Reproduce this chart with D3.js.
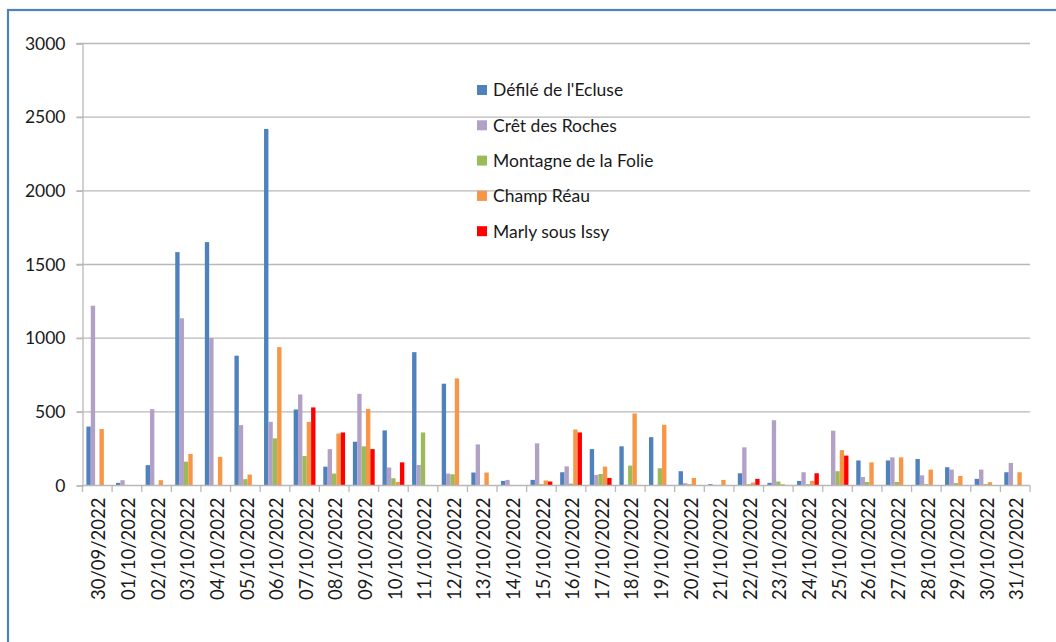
<!DOCTYPE html>
<html>
<head>
<meta charset="utf-8">
<script src="https://cdn.jsdelivr.net/npm/d3@7"></script>
<style>
  html, body { margin: 0; padding: 0; background: #fff; }
  svg { display: block; font-family: Lato, "Open Sans", sans-serif; }
</style>
</head>
<body>
<svg id="chart" width="1056" height="642"></svg>
<script>
// Daily counts per observation site, 30/09/2022 – 31/10/2022
const dates = [
  "30/09/2022", "01/10/2022", "02/10/2022", "03/10/2022", "04/10/2022", "05/10/2022",
  "06/10/2022", "07/10/2022", "08/10/2022", "09/10/2022", "10/10/2022", "11/10/2022",
  "12/10/2022", "13/10/2022", "14/10/2022", "15/10/2022", "16/10/2022", "17/10/2022",
  "18/10/2022", "19/10/2022", "20/10/2022", "21/10/2022", "22/10/2022", "23/10/2022",
  "24/10/2022", "25/10/2022", "26/10/2022", "27/10/2022", "28/10/2022", "29/10/2022",
  "30/10/2022", "31/10/2022"
];

const seriesNames = [
  "Défilé de l'Ecluse", "Crêt des Roches", "Montagne de la Folie", "Champ Réau", "Marly sous Issy"
];
const seriesColors = ["#4f81bd", "#b2a1c7", "#9bbb59", "#f79646", "#ff0000"];

const defileEcluse = [400, 18, 138, 1584, 1652, 881, 2420, 516, 128, 297, 374, 905,
  691, 88, 31, 38, 90, 247, 266, 328, 97, 9, 83, 18, 31, 0, 170, 170, 180, 124, 45, 90];
const cretRoches = [1220, 36, 518, 1135, 1000, 410, 432, 618, 247, 622, 122, 139,
  81, 279, 38, 286, 130, 72, 5, 0, 16, 0, 259, 443, 90, 372, 58, 191, 69, 108, 108, 153];
const montagneFolie = [0, 0, 0, 162, 0, 43, 320, 200, 81, 266, 49, 360,
  76, 0, 0, 9, 13, 78, 135, 117, 9, 0, 9, 27, 9, 97, 24, 24, 9, 16, 9, 0];
const champReau = [383, 0, 36, 214, 194, 74, 939, 432, 353, 520, 24, 0,
  727, 88, 0, 34, 380, 128, 489, 412, 51, 38, 20, 9, 31, 240, 157, 191, 108, 65, 22, 90];
const marlySousIssy = [0, 0, 0, 0, 0, 0, 0, 530, 360, 247, 157, 0,
  0, 0, 0, 27, 360, 51, 0, 0, 0, 0, 45, 0, 83, 203, 0, 0, 0, 0, 0, 0];

const yTicks = [0, 500, 1000, 1500, 2000, 2500, 3000];

const seriesValues = [defileEcluse, cretRoches, montagneFolie, champReau, marlySousIssy];

const svg = d3.select("#chart");

// Outer frame of the chart
svg.append("rect")
  .attr("x", 8).attr("y", 10)
  .attr("width", 1100).attr("height", 700)
  .attr("fill", "#fff")
  .attr("stroke", "#4f81bd")
  .attr("stroke-width", 2.2);

const plot = { left: 82.5, right: 1030, top: 43.5, bottom: 485.5 };

const x0 = d3.scaleBand().domain(dates).range([plot.left, plot.right]).padding(0);
const groupPad = 3.9;
const x1 = d3.scaleBand().domain(seriesNames)
  .range([groupPad, x0.bandwidth() - groupPad]).padding(0);
const y = d3.scaleLinear().domain([0, 3000]).range([plot.bottom, plot.top]);

const gridColor = "#b8b8b8";

// Horizontal gridlines
svg.append("g")
  .selectAll("line")
  .data(yTicks.filter(d => d > 0))
  .join("line")
  .attr("x1", plot.left - 6).attr("x2", plot.right)
  .attr("y1", d => y(d)).attr("y2", d => y(d))
  .attr("stroke", gridColor).attr("stroke-width", 1.3);

// Y axis
const yAxis = svg.append("g")
  .attr("transform", `translate(${plot.left},0)`)
  .call(d3.axisLeft(y).tickValues(yTicks).tickSize(6).tickPadding(11).tickFormat(d3.format("d")));
yAxis.select(".domain").attr("stroke", gridColor).attr("stroke-width", 1.3);
yAxis.selectAll(".tick line").attr("stroke", gridColor).attr("stroke-width", 1.3);
yAxis.selectAll(".tick text")
  .attr("fill", "#1a1a1a")
  .style("font-size", "17.5px")
  .style("font-family", "Lato, sans-serif");

// Bars
const groups = svg.append("g")
  .selectAll("g")
  .data(dates)
  .join("g")
  .attr("transform", d => `translate(${x0(d)},0)`);

groups.selectAll("rect")
  .data((d, i) => seriesNames.map((s, k) => ({ s, k, v: seriesValues[k][i] })))
  .join("rect")
  .filter(d => d.v > 0)
  .attr("x", d => x1(d.s))
  .attr("width", x1.bandwidth())
  .attr("y", d => y(d.v))
  .attr("height", d => y(0) - y(d.v))
  .attr("fill", d => seriesColors[d.k]);

// X axis with ticks on category boundaries
const xg = svg.append("g").attr("transform", `translate(0,${plot.bottom})`);
xg.append("line")
  .attr("x1", plot.left).attr("x2", plot.right)
  .attr("stroke", gridColor).attr("stroke-width", 1.3);
xg.selectAll("line.tick")
  .data(dates.concat(["end"]))
  .join("line")
  .attr("class", "tick")
  .attr("x1", (d, i) => plot.left + i * x0.step())
  .attr("x2", (d, i) => plot.left + i * x0.step())
  .attr("y1", 0).attr("y2", 6.5)
  .attr("stroke", gridColor).attr("stroke-width", 1.3);

xg.selectAll("text")
  .data(dates)
  .join("text")
  .attr("transform", d => `translate(${x0(d) + x0.bandwidth() / 2 + 1.5},12) rotate(-90)`)
  .attr("text-anchor", "end")
  .attr("dy", "0.36em")
  .attr("fill", "#1a1a1a")
  .style("font-size", "18.5px")
  .text(d => d);

// Legend
const legend = svg.append("g").attr("transform", "translate(477,90)");
const items = legend.selectAll("g")
  .data(seriesNames)
  .join("g")
  .attr("transform", (d, i) => `translate(0,${i * 35.3})`);
items.append("rect")
  .attr("x", 0).attr("y", -5)
  .attr("width", 10).attr("height", 10)
  .attr("fill", (d, i) => seriesColors[i]);
items.append("text")
  .attr("x", 16).attr("dy", "0.36em")
  .attr("fill", "#1a1a1a")
  .style("font-size", "17.5px")
  .text(d => d);
</script>
</body>
</html>
